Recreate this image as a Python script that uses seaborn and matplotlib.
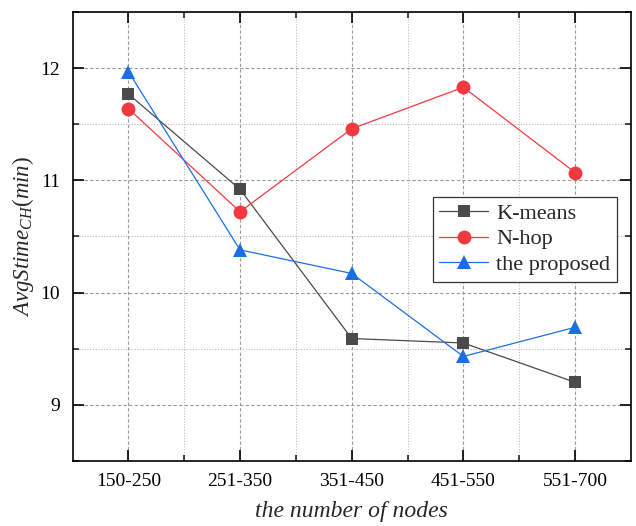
import matplotlib

matplotlib.use("Agg")
import matplotlib.pyplot as plt
import pandas as pd
import seaborn as sns
from matplotlib.ticker import FixedLocator, MultipleLocator

node_ranges = ["150-250", "251-350", "351-450", "451-550", "551-700"]
kmeans = [11.77, 10.92, 9.59, 9.55, 9.20]
nhop = [11.64, 10.72, 11.46, 11.83, 11.07]
proposed = [11.97, 10.38, 10.17, 9.43, 9.69]

series_names = ["K-means", "N-hop", "the proposed"]
colors = {"K-means": "#4a4a4a", "N-hop": "#f2393f", "the proposed": "#1c6fe0"}
markers = {"K-means": "s", "N-hop": "o", "the proposed": "^"}
sizes = {"K-means": 8.5, "N-hop": 10, "the proposed": 10.5}

df = pd.DataFrame({
    "nodes": node_ranges * 3,
    "value": kmeans + nhop + proposed,
    "method": sum([[name] * len(node_ranges) for name in series_names], []),
})

sns.set_theme(style="ticks")
plt.rcParams["font.family"] = ["Liberation Serif", "DejaVu Serif"]
plt.rcParams["mathtext.fontset"] = "custom"
plt.rcParams["mathtext.it"] = "Liberation Serif:italic"
plt.rcParams["mathtext.rm"] = "Liberation Serif"

fig = plt.figure(figsize=(6.36, 5.26), dpi=100)
ax = fig.add_axes([0.114, 0.124, 0.878, 0.853])

for name in series_names:
    sns.lineplot(
        data=df[df["method"] == name], x="nodes", y="value", ax=ax,
        color=colors[name], marker=markers[name], markersize=sizes[name],
        markeredgewidth=0, linewidth=0.9, label=name, sort=False,
    )

ax.set_xlim(-0.5, 4.5)
ax.set_ylim(8.5, 12.5)
ax.yaxis.set_major_locator(MultipleLocator(1))
ax.yaxis.set_minor_locator(MultipleLocator(0.5))
ax.xaxis.set_minor_locator(FixedLocator([0.5, 1.5, 2.5, 3.5]))

ax.grid(which="major", color="#9a9a9a", linestyle=(0, (3, 2)), linewidth=0.8)
ax.grid(which="minor", color="#bdbdbd", linestyle=(0, (1, 1.5)), linewidth=0.8)
ax.set_axisbelow(True)

for s in ax.spines.values():
    s.set_linewidth(1.2)
    s.set_color("black")
ax.tick_params(which="major", direction="in", length=8, width=1.2, top=True, right=True,
               labelsize=14, pad=9, colors="black")
ax.tick_params(which="minor", direction="in", length=4, width=1.2, top=True, right=True)

ax.set_xlabel("the number of nodes", fontsize=17, style="italic", labelpad=8)
ax.set_ylabel("$AvgStime_{CH}(min)$", fontsize=16.5, labelpad=3)

leg = ax.legend(loc="center", bbox_to_anchor=(0.81, 0.494), fontsize=16,
                frameon=True, fancybox=False, edgecolor="#333333", framealpha=1,
                handlelength=2.2, borderpad=0.3, labelspacing=0.22, handletextpad=0.35,
                borderaxespad=0)
leg.get_frame().set_linewidth(0.9)

fig.savefig("out.png", dpi=100)
